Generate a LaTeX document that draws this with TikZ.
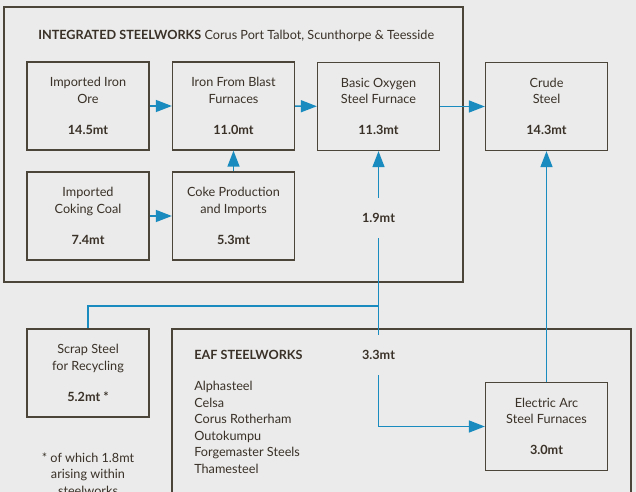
\documentclass[tikz,border=0pt]{standalone}
\usepackage{fontspec}
\setmainfont{Lato}
\usepackage{xcolor}
\usepackage{tikz}
\usetikzlibrary{arrows.meta,positioning}

\definecolor{paper}{HTML}{EAEBEA}
\definecolor{frame}{HTML}{4B4439}
\definecolor{ink}{HTML}{3A3128}
\definecolor{flowblue}{HTML}{1A8BBF}

\tikzset{
  stage/.style={draw=frame,line width=1pt,minimum width=91.5pt,minimum height=66pt,
    align=center,text=ink,font=\fontsize{9.5}{12.4}\selectfont,inner sep=0pt},
  flow/.style={draw=flowblue,line width=1.1pt,-{Triangle[length=12pt,width=9pt]}},
  link/.style={draw=flowblue,line width=1.1pt},
  amount/.style={fill=paper,text=ink,font=\fontsize{9.5}{12}\selectfont\bfseries,
    minimum height=30pt,inner sep=1pt},
  plain/.style={text=ink,font=\fontsize{9.5}{12.4}\selectfont,inner sep=0pt}
}

\begin{document}
\begin{tikzpicture}[x=0.75pt,y=-0.75pt]
		\useasboundingbox (0,0) rectangle (636,492);
		\clip (0,0) rectangle (636,492);
		\fill[paper] (0,0) rectangle (636,492);
		% works outlines
		\draw[frame,line width=1pt] (4,7) rectangle (463,282);
		\draw[frame,line width=1pt] (172,329) rectangle (631,520);
		\node[plain,anchor=west] (intlbl) at (38,36) {\textbf{INTEGRATED STEELWORKS} Corus Port Talbot, Scunthorpe \& Teesside};
		\node[plain,anchor=west,align=left] (eaflist) at (194,412) {\textbf{EAF STEELWORKS}\\[10.5pt]Alphasteel\\Celsa\\Corus Rotherham\\Outokumpu\\Forgemaster Steels\\Thamesteel};
		% stages
		\node[stage] (ore) at (88,106) {Imported Iron\\Ore\\[11pt]\textbf{14.5mt}};
		\node[stage] (blast) at (233.5,106) {Iron From Blast\\Furnaces\\[11pt]\textbf{11.0mt}};
		\node[stage] (bos) at (378.5,106.5) {Basic Oxygen\\Steel Furnace\\[11pt]\textbf{11.3mt}};
		\node[stage] (crude) at (546.5,106.5) {Crude\\Steel\\[11pt]\textbf{14.3mt}};
		\node[stage] (coal) at (88,216) {Imported\\Coking Coal\\[11pt]\textbf{7.4mt}};
		\node[stage] (coke) at (233.5,216) {Coke Production\\and Imports\\[11pt]\textbf{5.3mt}};
		\node[stage] (scrap) at (88,373) {Scrap Steel\\for Recycling\\[11pt]\textbf{5.2mt *}};
		\node[stage] (eaf) at (546.5,426.5) {Electric Arc\\Steel Furnaces\\[11pt]\textbf{3.0mt}};
		\node[plain,align=center] (note) at (88,474) {* of which 1.8mt\\arising within\\steelworks};
		% flows
		\draw[flow] (ore) -- (blast);
		\draw[flow] (blast) -- (bos);
		\draw[flow] (bos) -- (crude);
		\draw[flow] (coal) -- (coke);
		\draw[flow] (coke) -- (blast);
		\draw[flow] (eaf) -- (crude);
		\coordinate (split) at (378.5,306);
		\coordinate (bend) at (split |- eaf.west);
		\draw[link] (scrap.north) |- (split);
		\draw[flow] (split) -- node[amount,pos=0.57] {1.9mt} (bos.south);
		\draw[flow] (split) -- node[amount,pos=0.405] {3.3mt} (bend) -- (eaf.west);
	\end{tikzpicture}
\end{document}
